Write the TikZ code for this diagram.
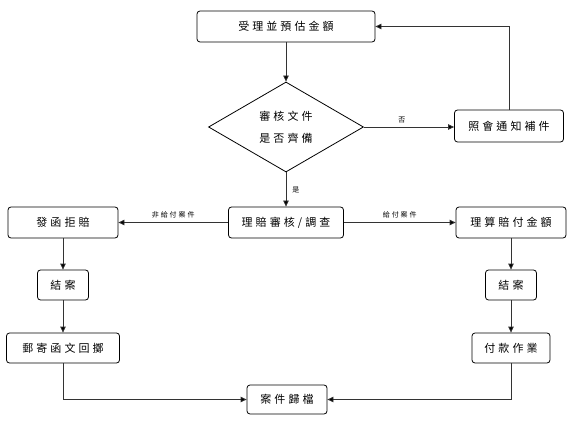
\documentclass[tikz,border=0pt]{standalone}
\usepackage{fontspec}
\newfontfamily\cjk[LetterSpace=28]{Noto Sans CJK TC}
\usetikzlibrary{shapes.geometric,arrows.meta}
\begin{document}
\begin{tikzpicture}[x=1pt,y=-1pt,
  box/.style={draw=black, line width=0.8pt, rounded corners=3pt, inner sep=0pt,
    minimum height=31pt, font=\cjk\fontsize{11pt}{13pt}\selectfont, fill=white},
  dia/.style={draw=black, line width=0.8pt, diamond, inner sep=0pt,
    minimum width=155pt, minimum height=90pt, align=center,
    font=\cjk\fontsize{11pt}{22pt}\selectfont},
  conn/.style={draw=black!80, line width=0.8pt, -{Triangle[length=6pt,width=5.5pt,fill=black]}},
  lbl/.style={font=\cjk\fontsize{7pt}{8pt}\selectfont, inner sep=1pt}
]
\useasboundingbox (0,0) rectangle (576,425);
\node[box, minimum width=178pt] (top) at (286,26.5) {受理並預估金額};
\node[dia] (chk) at (286,127) {審核文件\\是否齊備};
\node[box, minimum width=109pt, minimum height=32pt] (notice) at (509,126) {照會通知補件};
\node[box, minimum width=115pt] (review) at (286,222.5) {理賠審核/調查};
\node[box, minimum width=110pt] (reject) at (63,222.5) {發函拒賠};
\node[box, minimum width=110pt] (calc) at (511,222.5) {理算賠付金額};
\node[box, minimum width=51pt, minimum height=30pt] (closeL) at (63,285) {結案};
\node[box, minimum width=51pt, minimum height=30pt] (closeR) at (511,285) {結案};
\node[box, minimum width=113pt, minimum height=30pt] (mail) at (63,348) {郵寄函文回擲};
\node[box, minimum width=78pt, minimum height=30pt] (pay) at (511,348) {付款作業};
\node[box, minimum width=80pt, minimum height=29pt] (archive) at (287,399.5) {案件歸檔};

\draw[conn] (top) -- (chk);
\draw[conn] (chk.east) -- node[lbl, pos=0.42, above=3pt] {否} (chk.east -| notice.west);
\draw[conn] (notice.north) |- (top.east);
\draw[conn] (chk.south) -- node[lbl, right=5pt] {是} (review.north);
\draw[conn] (review.west) -- node[lbl, above=3pt] {非給付案件} (reject.east);
\draw[conn] (review.east) -- node[lbl, above=3pt] {給付案件} (calc.west);
\draw[conn] (reject) -- (closeL);
\draw[conn] (closeL) -- (mail);
\draw[conn] (mail.south) |- (archive.west);
\draw[conn] (calc) -- (closeR);
\draw[conn] (closeR) -- (pay);
\draw[conn] (pay.south) |- (archive.east);
\end{tikzpicture}
\end{document}
